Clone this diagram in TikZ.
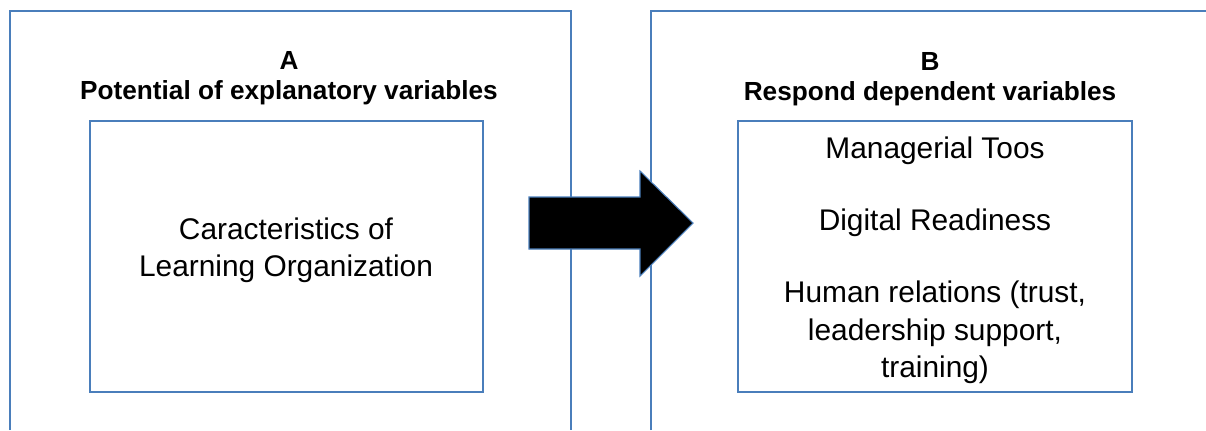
\documentclass[tikz,border=0pt]{standalone}
\usepackage{fontspec}
\setmainfont{Liberation Sans}
\usetikzlibrary{positioning}
\definecolor{boxblue}{RGB}{74,126,187}

\begin{document}
\begin{tikzpicture}[x=0.02cm,y=-0.02cm, frame/.style={draw=boxblue, line width=1pt}, inbox/.style={draw=boxblue, line width=1pt, minimum width=7.86cm, minimum height=5.42cm}, head/.style={font=\fontsize{14.9}{17.2}\selectfont\bfseries, align=center}, txt/.style={font=\fontsize{17}{21.3}\selectfont, align=center}]
\useasboundingbox (0,0) rectangle (1206,430);
% A
\coordinate (Aleft) at (10,430);
\coordinate (Aright) at (571,430);
\draw[frame] (Aleft) |- (571,11) -- (Aright);
\node[inbox] (inA) at (286.5,256.5) {};
\node[head] (headA) at (289,78) {A\\Potential of explanatory variables};
\node[txt] (lo) at (286,250.5) {Caracteristics of\\Learning Organization};
% B
\coordinate (Bleft) at (651,430);
\draw[frame] (Bleft) |- (1210,11);
\node[inbox, minimum width=7.88cm] (inB) at (935,256.5) {};
\node[head] (headB) at (930,79) {B\\Respond dependent variables};
\node[txt] (mt) at (935,150.5) {Managerial Toos};
\node[txt] (dr) at (935,222.5) {Digital Readiness};
\node[txt] (hr) at (935,332.5) {Human relations (trust,\\leadership support,\\training)};
% arrow
\draw[draw=boxblue, fill=black, line width=0.6pt] (529,197) -- (640,197) -- (640,171) -- (693,223) -- (640,276) -- (640,249) -- (529,249) -- cycle;
\end{tikzpicture}
\end{document}
